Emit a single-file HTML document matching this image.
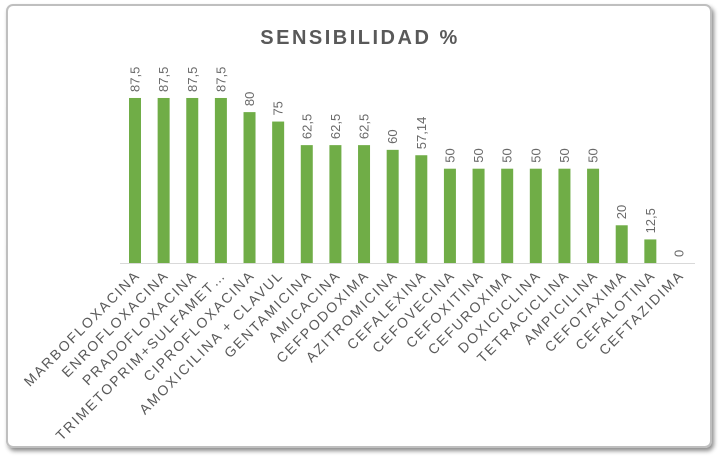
<!DOCTYPE html>
<html><head><style>
body{margin:0;background:#fff;}
svg{display:block;font-family:"Liberation Sans",sans-serif;}
</style></head><body>
<svg width="720" height="460" viewBox="0 0 720 460">
<defs><filter id="sh" x="-5%" y="-5%" width="110%" height="110%"><feDropShadow dx="2" dy="3" stdDeviation="2" flood-color="#000" flood-opacity="0.45"/></filter></defs>
<rect x="7" y="5" width="704" height="442" rx="6" fill="#fff" stroke="#bfbfbf" stroke-width="2" filter="url(#sh)"/>
<text x="360" y="44" text-anchor="middle" font-size="20" font-weight="bold" fill="#595959" letter-spacing="2.5">SENSIBILIDAD %</text>
<line x1="120" y1="263.5" x2="695" y2="263.5" stroke="#d9d9d9" stroke-width="1"/>
<g id="bars" fill="#70ad47"></g>
<g id="vals" font-size="13" fill="#6a6a6a"></g>
<g id="labs" font-size="14" fill="#595959" letter-spacing="1.9"></g>
</svg>
<script>
var v=[87.5,87.5,87.5,87.5,80,75,62.5,62.5,62.5,60,57.14,50,50,50,50,50,50,20,12.5,0];
var t=["MARBOFLOXACINA","ENROFLOXACINA","PRADOFLOXACINA","TRIMETOPRIM+SULFAMET…","CIPROFLOXACINA","AMOXICILINA + CLAVUL","GENTAMICINA","AMICACINA","CEFPODOXIMA","AZITROMICINA","CEFALEXINA","CEFOVECINA","CEFOXITINA","CEFUROXIMA","DOXICICLINA","TETRACICLINA","AMPICILINA","CEFOTAXIMA","CEFALOTINA","CEFTAZIDIMA"];
var ns="http://www.w3.org/2000/svg",B=document.getElementById("bars"),V=document.getElementById("vals"),L=document.getElementById("labs");
for(var i=0;i<20;i++){var c=135+i*28.63,h=v[i]*1.886,y=263-h;
var r=document.createElementNS(ns,"rect");r.setAttribute("x",c-6);r.setAttribute("y",y);r.setAttribute("width",12);r.setAttribute("height",h);B.appendChild(r);
var s=document.createElementNS(ns,"text");s.setAttribute("transform","translate("+(c+4.5)+","+(y-6)+") rotate(-90)");s.textContent=String(v[i]).replace(".",",");V.appendChild(s);
var l=document.createElementNS(ns,"text");l.setAttribute("text-anchor","end");l.setAttribute("transform","translate("+(c+6)+","+276+") rotate(-45)");l.textContent=t[i];L.appendChild(l);}
</script>
</body></html>
